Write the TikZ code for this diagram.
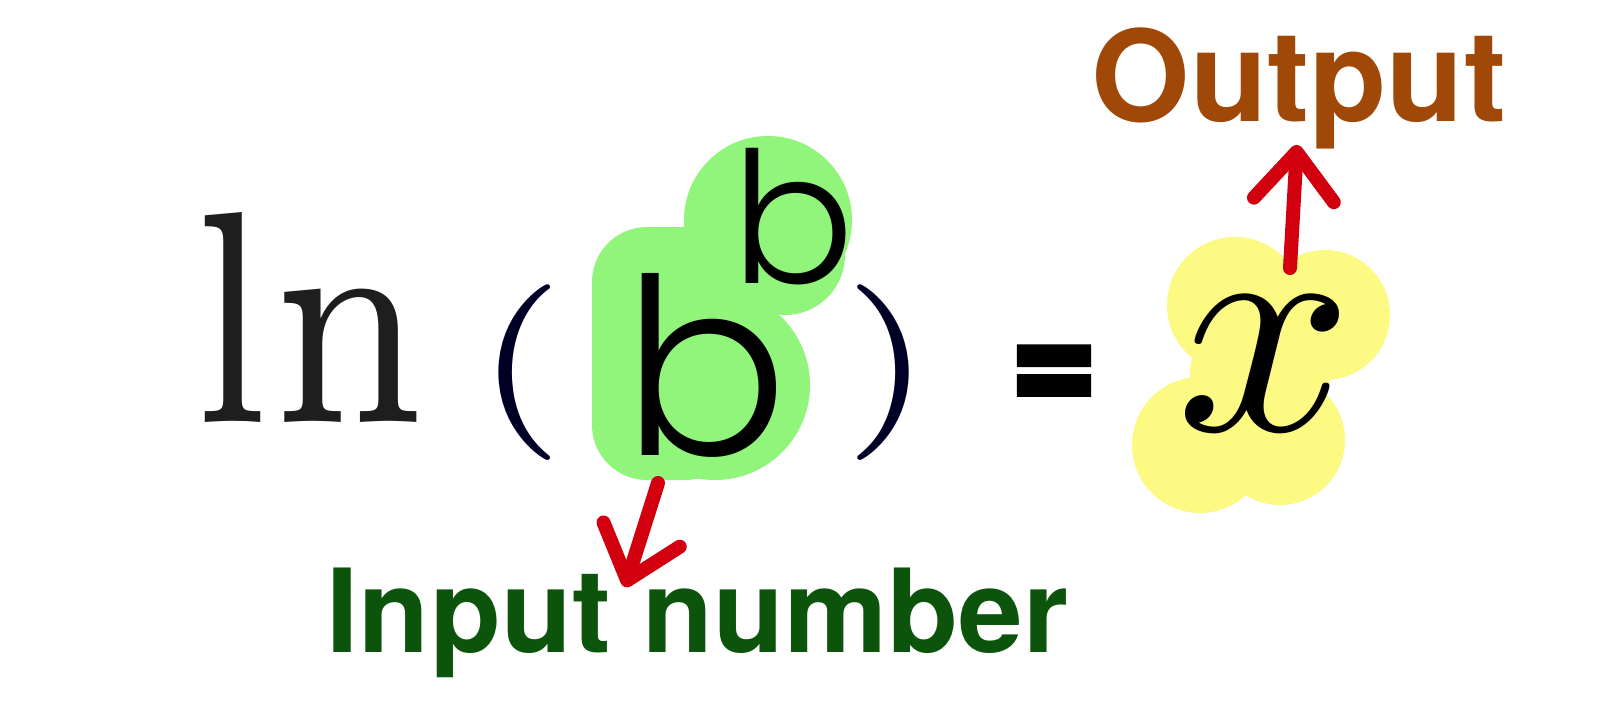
\documentclass[tikz,border=0pt]{standalone}
\usepackage{fontspec}
\usepackage{unicode-math}
\setmathfont{Latin Modern Math}
\usepackage{graphicx}
\usetikzlibrary{arrows.meta}

\newfontfamily\labelfont{TeX Gyre Heros}
\newfontfamily\eqfont{TeX Gyre Heros}[FakeBold=4]
\newfontfamily\geofont{Poppins Light}
\newfontfamily\lnfont{lmroman7-regular.otf}
\newfontfamily\parenfont{lmroman5-regular.otf}

\definecolor{hlgreen}{RGB}{144,245,122}
\definecolor{hlyellow}{RGB}{252,250,130}
\definecolor{outbrown}{RGB}{160,72,8}
\definecolor{ingreen}{RGB}{12,84,12}
\definecolor{arrowred}{RGB}{210,0,14}
\definecolor{inkgray}{RGB}{30,30,30}

\begin{document}
\begin{tikzpicture}[x=0.1mm,y=-0.1mm]
		\useasboundingbox (0,0) rectangle (1600,700);
		\fill[white] (0,0) rectangle (1600,700);

		% highlights
		\fill[hlgreen, rounded corners=5.5mm] (592,227) rectangle (740,480);
		\fill[hlgreen] (715,385) circle (95);
		\fill[hlgreen] (768,220) circle (84) (785,255) circle (60);
		\fill[hlyellow] (1235,305) circle (68) (1325,315) circle (65) (1200,445) circle (68)
			(1280,440) circle (65) (1260,375) circle (70);

		\begin{scope}
            [
                every node/.style={inner sep=0pt, text=inkgray},
				serif/.style={font=\lnfont\fontsize{86}{90}\selectfont},
				paren/.style={font=\parenfont\fontsize{50}{60}\selectfont, text=black!85!blue},
				geo/.style={font=\geofont\fontsize{#1}{#1}\selectfont, text=black},
				label/.style={font=\labelfont\bfseries\fontsize{#1}{#1}\selectfont}
            ]

			\node(ln)[serif, anchor=base west] at (191,422) {\resizebox{23.5mm}{21mm}{ln}};
			\node(lpar)[paren, anchor=base] at (520,416) {(};
			\node(rpar)[paren, anchor=base] at (888,416) {)};

			\node(base)[geo=70, anchor=base west] at (622,455) {b};
			\node(power)[geo=52, anchor=base west] at (731,283) {b};

			\node(eq)[font=\eqfont\bfseries\fontsize{42}{42}\selectfont, text=black, anchor=north] at (1054,347) {\scalebox{1}[1.1]{=}};
			\node(xval)[font=\fontsize{88}{88}\selectfont, text=black, anchor=base] at (1265,430) {$x$};

			\node(output)[label=36, text=outbrown, anchor=base west] at (1091,121) {Output};
			\node(input)[label=33, text=ingreen, anchor=base west] at (326,652) {Input number};
		\end{scope}

		\coordinate (bfoot) at (658,483);
		\coordinate (intip) at (625,587);
		\coordinate (xhead) at (1290,268);
		\coordinate (outtip) at (1297,145);

		\begin{scope}
            [>={Straight Barb[length=4.8mm, width=8mm, round]},
                every edge/.style={draw=arrowred, line width=1.4mm, line cap=round, ->},
            ]
            \path
            (bfoot) edge (intip)
			(xhead) edge (outtip);
		\end{scope}
    \end{tikzpicture}
\end{document}
